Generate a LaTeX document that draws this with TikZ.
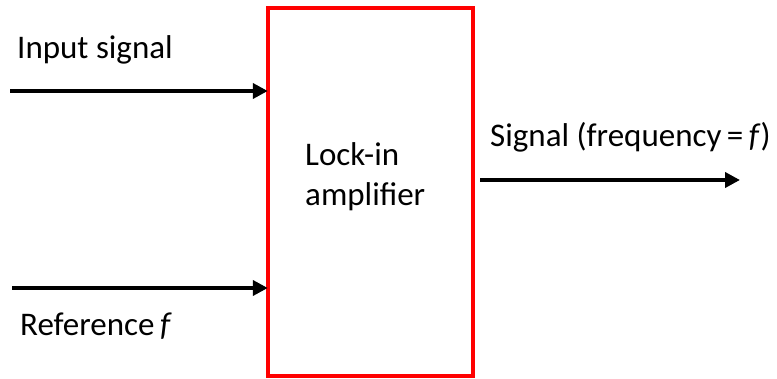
\documentclass[tikz,border=0pt]{standalone}
\usepackage{fontspec}
\setmainfont{Carlito}
\usetikzlibrary{arrows.meta}
\begin{document}
\begin{tikzpicture}[x=1pt,y=-1pt,
  lbl/.style={anchor=base west,inner sep=0pt,font=\fontsize{33}{40}\selectfont},
  sig/.style={line width=4pt,-{Triangle[length=15pt,width=15pt]}},
  boxst/.style={draw=red,line width=4pt}]
\useasboundingbox (0,0) rectangle (777,379);
\draw[boxst] (268,8) rectangle (473,376);
\node[draw=none,inner sep=0pt,minimum width=205pt,minimum height=368pt] (amp) at (370.5,192) {};
\coordinate (in1) at (10,91);
\coordinate (in2) at (12,288);
\coordinate (out) at (740,180);
\coordinate (o1) at (480,180);
\draw[sig] (in1) -- (in1 -| amp.west);
\draw[sig] (in2) -- (in2 -| amp.west);
\draw[sig] (o1) -- (out);
\node[lbl] (t1) at (17,59) {Input signal};
\node[lbl] (t2) at (305,166) {Lock-in};
\node[lbl] (t3) at (305,206) {amplifier};
\node[lbl] (t4) at (490,147) {Signal (frequency\,=\,\textit{f})};
\node[lbl] (t5) at (20,336) {Reference\,\textit{f}};
\end{tikzpicture}
\end{document}
